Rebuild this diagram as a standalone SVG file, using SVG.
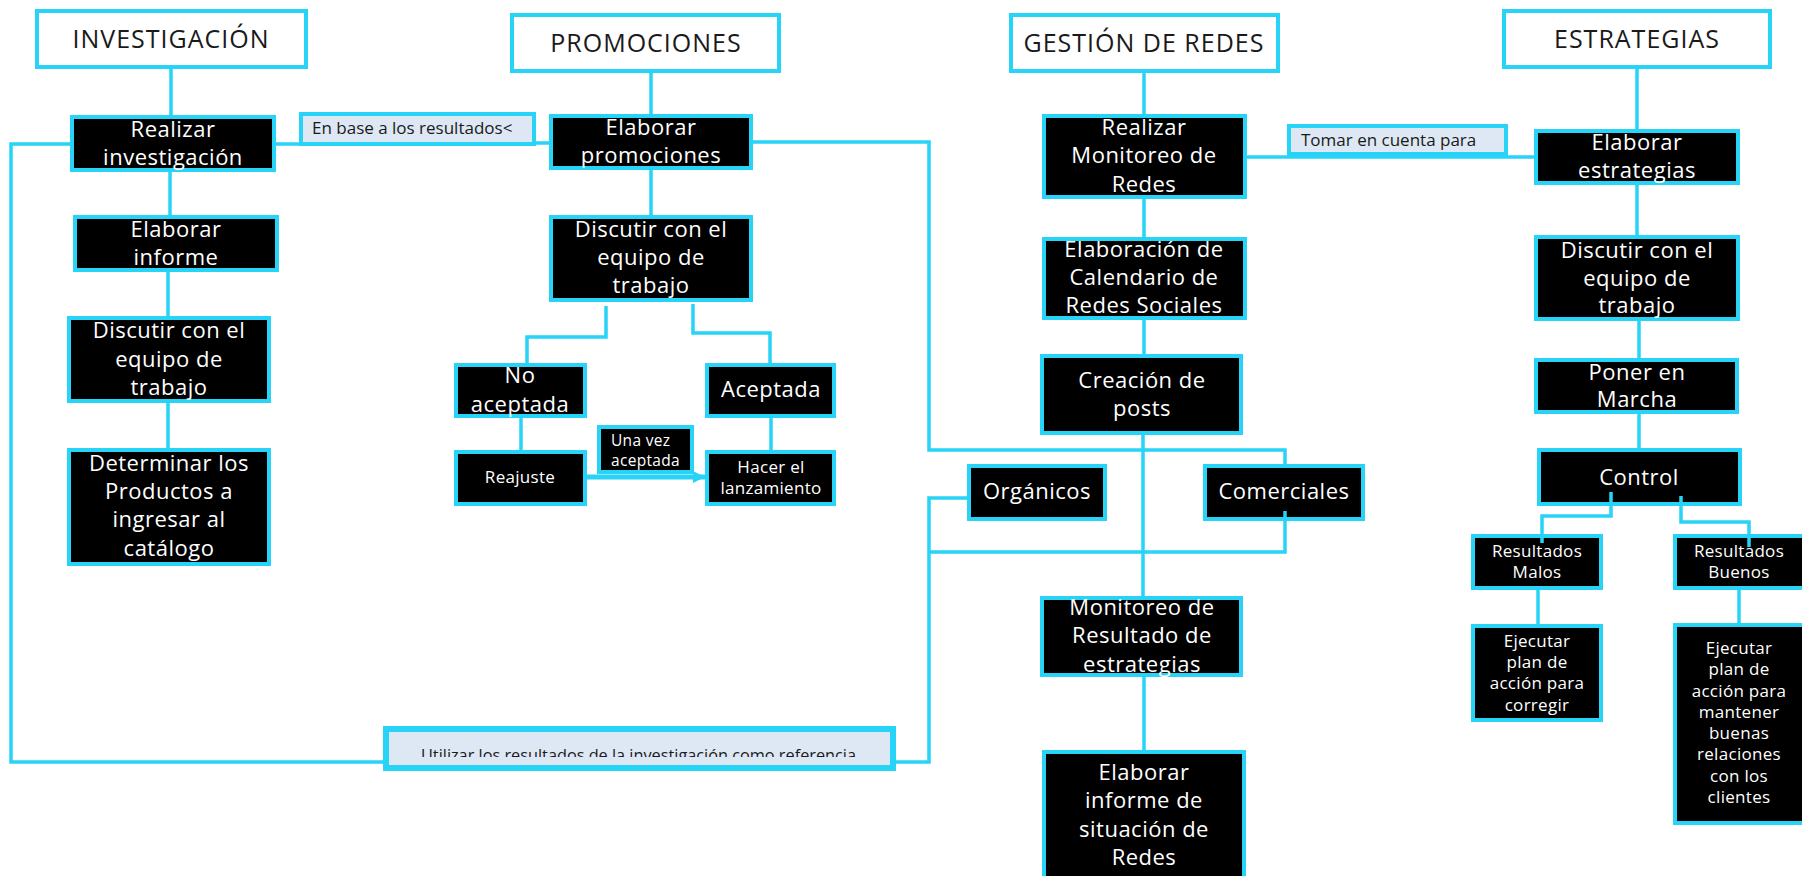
<svg xmlns="http://www.w3.org/2000/svg" width="1802" height="876" viewBox="0 0 1802 876">
  <style>
    .hdr rect { fill: #ffffff; stroke: #27d4f7; stroke-width: 4; }
    .hdr text { font-family: "Open Sans", "Noto Sans", sans-serif; font-size: 25px; letter-spacing: 1px; fill: #1a1a1a; text-anchor: middle; }
    .box rect { fill: #000000; stroke: #27d4f7; stroke-width: 4; }
    .box text { font-family: "Open Sans", "Noto Sans", sans-serif; font-size: 22px; letter-spacing: 0.5px; fill: #ffffff; text-anchor: middle; }
    .box.sm text { font-size: 17px; letter-spacing: 0.3px; }
    .lbl rect { fill: #dde8f4; stroke: #27d4f7; stroke-width: 4; }
    .lbl text { font-family: "Open Sans", "Noto Sans", sans-serif; font-size: 17px; fill: #1a1a1a; }
    .conn path { fill: none; stroke: #27d4f7; stroke-width: 3.5; stroke-linejoin: miter; }
  </style>
  <defs>
    <marker id="arrow" markerUnits="userSpaceOnUse" markerWidth="14" markerHeight="14" refX="12" refY="6" orient="auto">
      <path d="M0,0 L12,6 L0,12 Z" fill="#27d4f7"/>
    </marker>
    <clipPath id="clipUtilizar">
      <rect x="386" y="729" width="507" height="28"/>
    </clipPath>
  </defs>

  <rect x="0" y="0" width="1802" height="876" fill="#ffffff"/>

  <!-- column headers -->
  <g id="h-investigacion" class="hdr">
    <rect x="37" y="11" width="269" height="56"/>
    <text x="171" y="48">INVESTIGACIÓN</text>
  </g>
  <g id="h-promociones" class="hdr">
    <rect x="512" y="15" width="267" height="56"/>
    <text x="646" y="52">PROMOCIONES</text>
  </g>
  <g id="h-gestion" class="hdr">
    <rect x="1011" y="15" width="267" height="56"/>
    <text x="1144" y="52">GESTIÓN DE REDES</text>
  </g>
  <g id="h-estrategias" class="hdr">
    <rect x="1504" y="11" width="266" height="56"/>
    <text x="1637" y="48">ESTRATEGIAS</text>
  </g>

  <!-- investigación -->
  <g id="inv-realizar" class="box">
    <rect x="72" y="117" width="202" height="53"/>
    <text x="173" y="137">Realizar</text>
    <text x="173" y="165">investigación</text>
  </g>
  <g id="inv-informe" class="box">
    <rect x="75" y="217" width="202" height="53"/>
    <text x="176" y="237">Elaborar</text>
    <text x="176" y="265">informe</text>
  </g>
  <g id="inv-discutir" class="box">
    <rect x="69" y="318" width="200" height="83"/>
    <text x="169" y="338">Discutir con el</text>
    <text x="169" y="367">equipo de</text>
    <text x="169" y="395">trabajo</text>
  </g>
  <g id="inv-determinar" class="box">
    <rect x="69" y="450" width="200" height="114"/>
    <text x="169" y="471">Determinar los</text>
    <text x="169" y="499">Productos a</text>
    <text x="169" y="527">ingresar al</text>
    <text x="169" y="556">catálogo</text>
  </g>

  <!-- promociones -->
  <g id="promo-elaborar" class="box">
    <rect x="551" y="116" width="200" height="52"/>
    <text x="651" y="135">Elaborar</text>
    <text x="651" y="163">promociones</text>
  </g>
  <g id="promo-discutir" class="box">
    <rect x="551" y="217" width="200" height="83"/>
    <text x="651" y="237">Discutir con el</text>
    <text x="651" y="265">equipo de</text>
    <text x="651" y="293">trabajo</text>
  </g>
  <g id="promo-no-aceptada" class="box">
    <rect x="456" y="365" width="129" height="51"/>
    <text x="520" y="383">No</text>
    <text x="520" y="412">aceptada</text>
  </g>
  <g id="promo-aceptada" class="box">
    <rect x="707" y="365" width="127" height="51"/>
    <text x="771" y="397">Aceptada</text>
  </g>
  <g id="promo-reajuste" class="box sm">
    <rect x="456" y="452" width="129" height="52"/>
    <text x="520" y="483">Reajuste</text>
  </g>
  <g id="promo-lanzamiento" class="box sm">
    <rect x="707" y="452" width="127" height="52"/>
    <text x="771" y="473">Hacer el</text>
    <text x="771" y="494">lanzamiento</text>
  </g>
  <g id="promo-una-vez" class="box sm">
    <rect x="599" y="427" width="93" height="45"/>
    <text x="611" y="446" style="text-anchor:start;font-size:15.5px">Una vez</text>
    <text x="611" y="466" style="text-anchor:start;font-size:15.5px">aceptada</text>
  </g>

  <!-- gestión de redes -->
  <g id="redes-monitoreo" class="box">
    <rect x="1044" y="116" width="201" height="81"/>
    <text x="1144" y="135">Realizar</text>
    <text x="1144" y="163">Monitoreo de</text>
    <text x="1144" y="192">Redes</text>
  </g>
  <g id="redes-calendario" class="box">
    <rect x="1044" y="239" width="201" height="79"/>
    <text x="1144" y="257">Elaboración de</text>
    <text x="1144" y="285">Calendario de</text>
    <text x="1144" y="313">Redes Sociales</text>
  </g>
  <g id="redes-posts" class="box">
    <rect x="1042" y="356" width="199" height="77"/>
    <text x="1142" y="388">Creación de</text>
    <text x="1142" y="416">posts</text>
  </g>
  <g id="redes-organicos" class="box">
    <rect x="969" y="466" width="136" height="53"/>
    <text x="1037" y="499">Orgánicos</text>
  </g>
  <g id="redes-comerciales" class="box">
    <rect x="1205" y="466" width="158" height="53"/>
    <text x="1284" y="499">Comerciales</text>
  </g>
  <g id="redes-resultado" class="box">
    <rect x="1042" y="598" width="199" height="77"/>
    <text x="1142" y="615">Monitoreo de</text>
    <text x="1142" y="643">Resultado de</text>
    <text x="1142" y="672">estrategias</text>
  </g>
  <g id="redes-informe" class="box">
    <rect x="1044" y="752" width="200" height="140"/>
    <text x="1144" y="780">Elaborar</text>
    <text x="1144" y="808">informe de</text>
    <text x="1144" y="837">situación de</text>
    <text x="1144" y="865">Redes</text>
  </g>

  <!-- estrategias -->
  <g id="estr-elaborar" class="box">
    <rect x="1536" y="131" width="202" height="52"/>
    <text x="1637" y="150">Elaborar</text>
    <text x="1637" y="178">estrategias</text>
  </g>
  <g id="estr-discutir" class="box">
    <rect x="1536" y="237" width="202" height="82"/>
    <text x="1637" y="258">Discutir con el</text>
    <text x="1637" y="286">equipo de</text>
    <text x="1637" y="313">trabajo</text>
  </g>
  <g id="estr-marcha" class="box">
    <rect x="1536" y="360" width="201" height="52"/>
    <text x="1637" y="380">Poner en</text>
    <text x="1637" y="407">Marcha</text>
  </g>
  <g id="estr-control" class="box">
    <rect x="1539" y="450" width="201" height="54"/>
    <text x="1639" y="485">Control</text>
  </g>
  <g id="estr-malos" class="box sm">
    <rect x="1473" y="536" width="128" height="52"/>
    <text x="1537" y="557">Resultados</text>
    <text x="1537" y="578">Malos</text>
  </g>
  <g id="estr-buenos" class="box sm">
    <rect x="1675" y="536" width="140" height="52"/>
    <text x="1739" y="557">Resultados</text>
    <text x="1739" y="578">Buenos</text>
  </g>
  <g id="estr-corregir" class="box sm">
    <rect x="1473" y="626" width="128" height="94"/>
    <text x="1537" y="647">Ejecutar</text>
    <text x="1537" y="668">plan de</text>
    <text x="1537" y="689">acción para</text>
    <text x="1537" y="711">corregir</text>
  </g>
  <g id="estr-mantener" class="box sm">
    <rect x="1675" y="625" width="140" height="198"/>
    <text x="1739" y="654">Ejecutar</text>
    <text x="1739" y="675">plan de</text>
    <text x="1739" y="697">acción para</text>
    <text x="1739" y="718">mantener</text>
    <text x="1739" y="739">buenas</text>
    <text x="1739" y="760">relaciones</text>
    <text x="1739" y="782">con los</text>
    <text x="1739" y="803">clientes</text>
  </g>

  <!-- connector labels -->
  <g id="lbl-en-base" class="lbl">
    <rect x="301" y="114" width="233" height="30"/>
    <text x="312" y="134">En base a los resultados&lt;</text>
  </g>
  <g id="lbl-tomar" class="lbl">
    <rect x="1289" y="126" width="217" height="28"/>
    <text x="1301" y="146">Tomar en cuenta para</text>
  </g>
  <g id="lbl-utilizar" class="lbl">
    <rect x="386" y="729" width="507" height="39" style="stroke-width:6"/>
    <text x="421" y="761" clip-path="url(#clipUtilizar)" textLength="435" lengthAdjust="spacingAndGlyphs" style="font-size:16px">Utilizar los resultados de la investigación como referencia</text>
  </g>

  <!-- connectors -->
  <g id="connectors" class="conn">
    <path d="M171 69 V115"/>
    <path d="M170 172 V215"/>
    <path d="M168 272 V316"/>
    <path d="M168 403 V448"/>
    <path d="M276 144 H299"/>
    <path d="M536 143 H549"/>
    <path d="M70 144 H11 V762 H383"/>
    <path d="M651 73 V114"/>
    <path d="M651 170 V215"/>
    <path d="M606 306 V337 H527 V363"/>
    <path d="M693 304 V333 H770 V363"/>
    <path d="M521 418 V450"/>
    <path d="M771 418 V450"/>
    <path d="M587 477 H705" style="stroke-width:5" marker-end="url(#arrow)"/>
    <path d="M753 142 H929 V450 H1285 V464"/>
    <path d="M967 498 H929 V762 H896"/>
    <path d="M1285 511 V552 H929"/>
    <path d="M1144 73 V114"/>
    <path d="M1144 199 V237"/>
    <path d="M1144 320 V354"/>
    <path d="M1143 435 V596"/>
    <path d="M1144 677 V750"/>
    <path d="M1247 157 H1534"/>
    <path d="M1637 69 V129"/>
    <path d="M1637 185 V235"/>
    <path d="M1639 321 V358"/>
    <path d="M1639 414 V448"/>
    <path d="M1611 492 V516 H1542 V543"/>
    <path d="M1681 496 V522 H1749 V547"/>
    <path d="M1538 590 V624"/>
    <path d="M1739 590 V623"/>
  </g>
</svg>
